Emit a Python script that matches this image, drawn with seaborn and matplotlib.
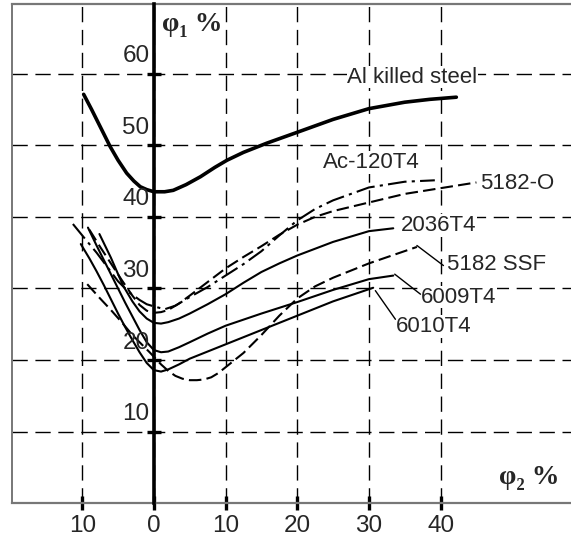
import matplotlib
matplotlib.use("Agg")
import matplotlib.pyplot as plt
import seaborn as sns
import pandas as pd

# curve data (phi2 %, phi1 %)
al_x = [-9.8, -8.7, -7.5, -6.1, -5, -3.8, -2.8, -1.9, -1, 0, 1.5, 2.7, 4.5, 6.5, 8.5, 10.2, 12.5, 15.8, 20, 25, 30, 35, 38.5, 42.2]
al_y = [57.1, 55.0, 52.6, 49.8, 47.9, 46.1, 45.0, 44.2, 43.8, 43.5, 43.5, 43.7, 44.5, 45.6, 46.9, 47.9, 49.0, 50.3, 51.8, 53.6, 55.1, 56.0, 56.4, 56.7]

ac_x = [-11.3, -9.5, -8, -6.5, -5, -3.5, -2, -1, 0, 1.5, 3, 5, 7.5, 10, 12.5, 15, 17.5, 20, 22.5, 25, 30, 35, 39.2]
ac_y = [39.0, 36.8, 35.0, 33.0, 31.0, 29.5, 28.4, 27.8, 27.5, 27.1, 27.6, 28.8, 30.2, 31.8, 33.4, 35.2, 37.4, 39.5, 41.1, 42.3, 44.1, 44.9, 45.1]

o5182_x = [-9, -7.5, -6, -4.5, -3, -2, -1, 0, 1, 2, 3.5, 5, 7.5, 10, 12.5, 15, 17.5, 20, 22.5, 25, 30, 35, 40, 45]
o5182_y = [38.2, 35.8, 33.5, 31.2, 29.0, 27.7, 26.9, 26.6, 26.7, 27.0, 27.9, 29.0, 30.9, 32.8, 34.4, 35.9, 37.5, 38.9, 40.0, 40.8, 42.0, 43.2, 44.0, 44.8]

t2036_x = [-7.6, -6, -4.3, -3, -2, -1, 0, 1, 2, 3.5, 5, 7.5, 10, 12.5, 15, 17.5, 20, 25, 30, 33.4]
t2036_y = [37.6, 34.3, 30.4, 28.2, 26.8, 25.8, 25.2, 25.1, 25.3, 25.8, 26.5, 27.8, 29.2, 30.8, 32.3, 33.5, 34.6, 36.5, 38.0, 38.4]

ssf_x = [-9.3, -7.5, -6, -4.5, -3, -1.5, -0.6, 1, 2, 3, 4, 5, 6, 7, 8, 9, 10, 12.5, 15, 17.5, 20, 22.5, 25, 30, 36.7]
ssf_y = [30.6, 28.6, 27.0, 25.3, 23.5, 22.0, 21.1, 19.4, 18.5, 17.8, 17.4, 17.2, 17.2, 17.3, 17.6, 18.2, 19.0, 21.0, 23.5, 26.2, 28.6, 30.3, 31.5, 33.5, 35.8]

t6009_x = [-9.2, -8, -7, -6, -5, -4, -3, -2, -1, 0, 1, 2, 3.5, 5, 7.5, 10, 15, 20, 25, 30, 33.4]
t6009_y = [38.5, 36.0, 34.0, 32.0, 30.0, 28.0, 26.1, 24.2, 22.5, 21.4, 21.1, 21.2, 21.8, 22.5, 23.7, 24.8, 26.5, 28.1, 29.8, 31.3, 31.8]

t6010_x = [-10.2, -9, -8, -7, -6, -5, -4, -3, -2, -1, 0, 1, 2, 3.5, 5, 7.5, 10, 15, 20, 25, 30.6]
t6010_y = [36.2, 34.2, 32.4, 30.5, 28.5, 26.5, 24.6, 22.8, 21.1, 19.6, 18.6, 18.4, 18.7, 19.4, 20.2, 21.2, 22.2, 24.2, 26.2, 28.2, 30.1]

x_ticks = [-10, 0, 10, 20, 30, 40]
x_tick_labels = ["10", "0", "10", "20", "30", "40"]
y_ticks = [10, 20, 30, 40, 50, 60]

sns.set_style("white")
plt.rcParams['font.family'] = ['Liberation Sans', 'DejaVu Sans']

fig = plt.figure(figsize=(5.71, 5.41), dpi=100)
ax = fig.add_axes([0.021, 0.0695, 0.979, 0.923])

curves = [
    ("Al killed steel", al_x, al_y, 2.6, '-'),
    ("Ac-120T4", ac_x, ac_y, 1.5, (0, (9, 2.5, 1.5, 2.5))),
    ("5182-O", o5182_x, o5182_y, 1.5, (0, (6, 2.5))),
    ("2036T4", t2036_x, t2036_y, 1.5, '-'),
    ("5182 SSF", ssf_x, ssf_y, 1.5, (0, (6, 2.5))),
    ("6009T4", t6009_x, t6009_y, 1.5, '-'),
    ("6010T4", t6010_x, t6010_y, 1.5, '-'),
]

for name, xs, ys, lw, ls in curves:
    df = pd.DataFrame({'phi2': xs, 'phi1': ys})
    sns.lineplot(data=df, x='phi2', y='phi1', ax=ax, color='black', lw=lw,
                 linestyle=ls, sort=False, estimator=None, zorder=3)

ax.set_xlim(-19.8, 58.2)
ax.set_ylim(0, 69.7)
ax.set_xlabel('')
ax.set_ylabel('')

# grid
ax.set_xticks(x_ticks)
ax.set_xticklabels(x_tick_labels, fontsize=17.5)
ax.set_yticks(y_ticks)
ax.grid(True, color='black', lw=1.0, linestyle=(0, (11, 5.5)))
for gl in ax.get_xgridlines() + ax.get_ygridlines():
    gl.set_zorder(1)

# spines: y axis through x=0, gray frame elsewhere
ax.spines['left'].set_position(('data', 0))
ax.spines['left'].set_color('black')
ax.spines['left'].set_linewidth(2.6)
ax.spines['left'].set_zorder(4)
ax.spines['right'].set_visible(False)
for s in ['top', 'bottom']:
    ax.spines[s].set_color('#777777')
    ax.spines[s].set_linewidth(1.6)
ax.plot([0, 0], [0, 1], transform=ax.transAxes, color='#777777', lw=1.4,
        clip_on=False, zorder=5)

ax.tick_params(axis='x', direction='inout', length=10, width=2.4, color='black',
               pad=3, bottom=True)
ax.tick_params(axis='y', direction='inout', length=10, width=2.4, color='black',
               left=True, labelleft=False)

for yv in y_ticks:
    ax.text(-0.6, yv + 0.9, str(yv), ha='right', va='bottom', fontsize=17.5,
            zorder=6)

# curve labels
box = dict(facecolor='white', edgecolor='none', pad=0.5)
ax.text(27.0, 59.5, "Al killed steel", fontsize=16, ha='left', va='center', bbox=box, zorder=2)
ax.text(23.6, 47.6, "Ac-120T4", fontsize=16, ha='left', va='center', bbox=box, zorder=2)
ax.text(45.5, 44.6, "5182-O", fontsize=16, ha='left', va='center', bbox=box, zorder=2)
ax.text(34.4, 38.8, "2036T4", fontsize=16, ha='left', va='center', bbox=box, zorder=2)
ax.text(40.9, 33.4, "5182 SSF", fontsize=16, ha='left', va='center', bbox=box, zorder=2)
ax.text(37.3, 28.8, "6009T4", fontsize=16, ha='left', va='center', bbox=box, zorder=2)
ax.text(33.8, 24.7, "6010T4", fontsize=16, ha='left', va='center', bbox=box, zorder=2)

# leader lines
ax.plot([36.7, 40.4], [36.0, 33.2], color='black', lw=1.0, zorder=3)
ax.plot([33.6, 37.2], [32.0, 29.2], color='black', lw=1.0, zorder=3)
ax.plot([30.9, 33.7], [29.7, 25.7], color='black', lw=1.0, zorder=3)

# axis titles
ax.text(1.1, 66.8, "φ₁ %", fontsize=20, fontweight='bold', ha='left', va='center',
        family=['Liberation Serif', 'DejaVu Serif'], zorder=6)
ax.text(48.2, 3.6, "φ₂ %", fontsize=20, fontweight='bold', ha='left', va='center',
        family=['Liberation Serif', 'DejaVu Serif'], zorder=6)

fig.savefig("out.png", dpi=100)
